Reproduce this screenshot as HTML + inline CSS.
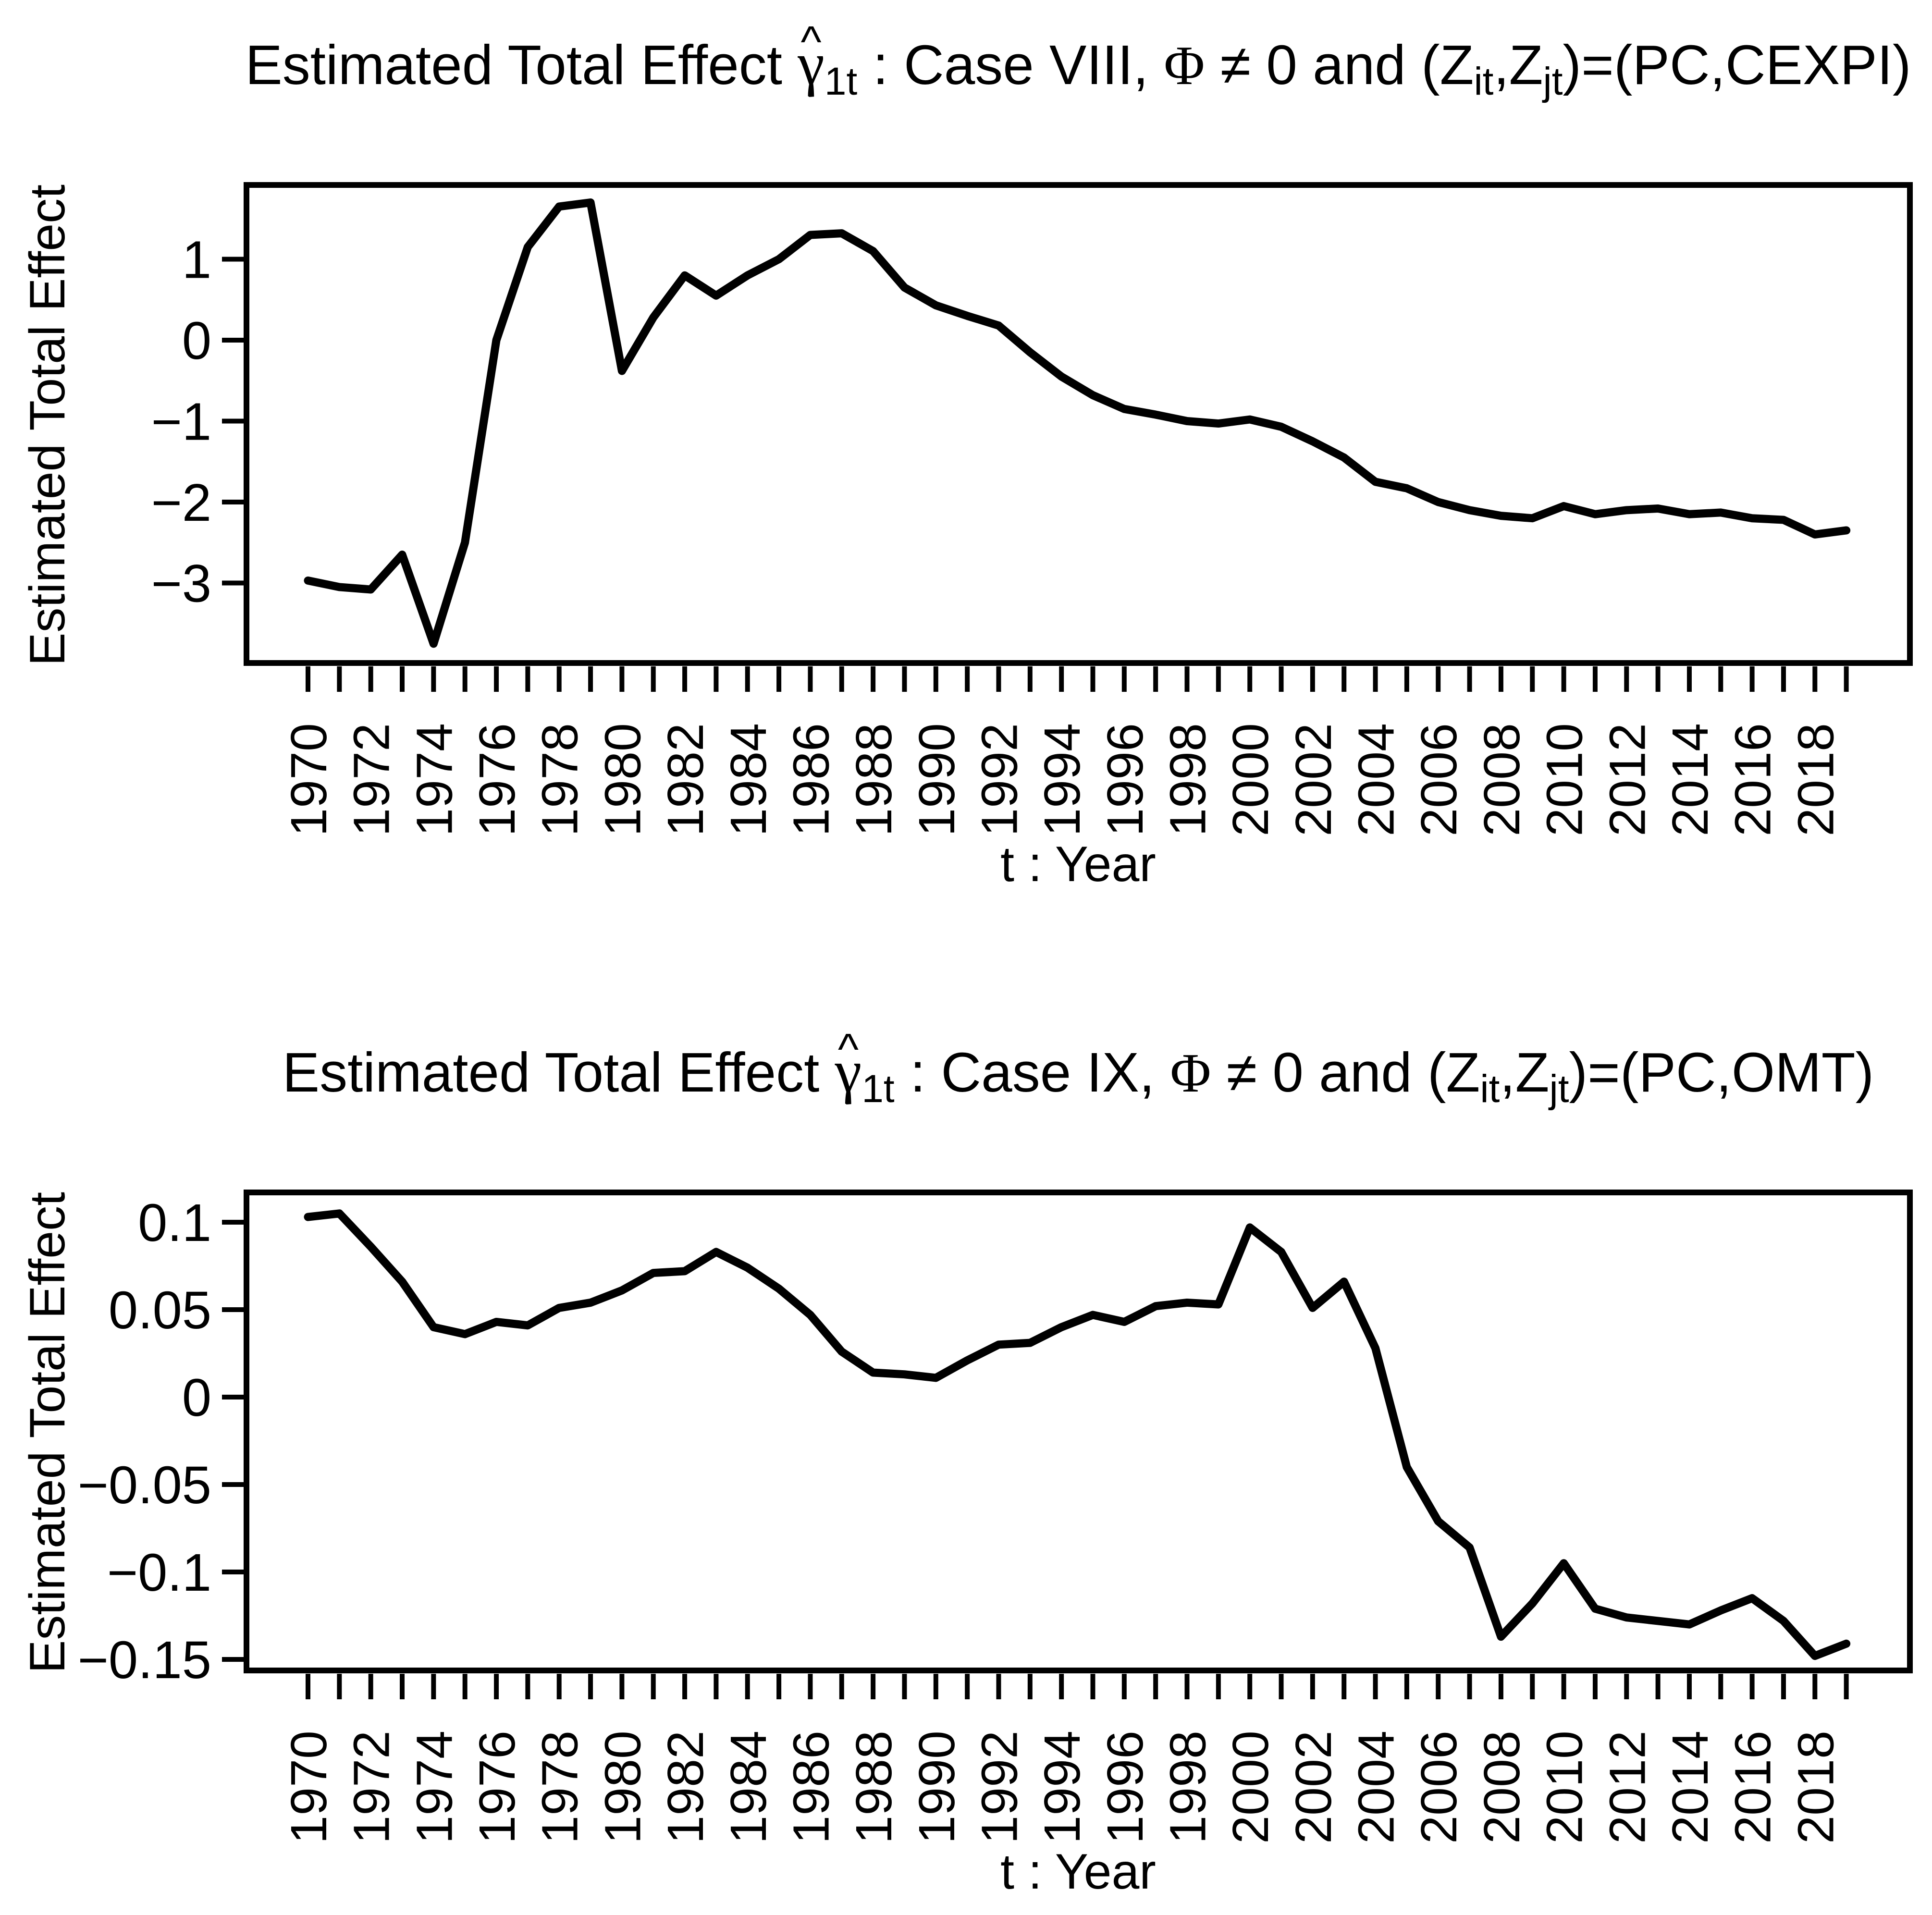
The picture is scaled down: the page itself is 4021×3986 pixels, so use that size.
<!DOCTYPE html>
<html><head><meta charset="utf-8"><style>html,body{margin:0;padding:0;background:#fff}svg{display:block}</style></head>
<body>
<svg id="chart" xmlns="http://www.w3.org/2000/svg" width="4021" height="3986" viewBox="0 0 4021 3986" font-family="'Liberation Sans', Arial, sans-serif">
<rect width="4021" height="3986" fill="#fff"/>
</svg>
<script>
const years = [];
for (let y = 1970; y <= 2019; y++) years.push(y);
const xTickLabels = ["1970","1972","1974","1976","1978","1980","1982","1984","1986","1988","1990","1992","1994","1996","1998","2000","2002","2004","2006","2008","2010","2012","2014","2016","2018"];
const seriesCaseVIII = [-2.97,-3.05,-3.08,-2.65,-3.75,-2.5,0.0,1.15,1.65,1.7,-0.38,0.28,0.8,0.55,0.8,1.0,1.3,1.32,1.1,0.65,0.43,0.3,0.18,-0.15,-0.45,-0.68,-0.85,-0.92,-1.0,-1.03,-0.98,-1.07,-1.25,-1.45,-1.75,-1.83,-2.0,-2.1,-2.17,-2.2,-2.05,-2.15,-2.1,-2.08,-2.15,-2.13,-2.2,-2.22,-2.4,-2.35];
const seriesCaseIX = [0.103,0.105,0.086,0.066,0.04,0.036,0.043,0.041,0.051,0.054,0.061,0.071,0.072,0.083,0.074,0.062,0.047,0.026,0.014,0.013,0.011,0.021,0.030,0.031,0.040,0.047,0.043,0.052,0.054,0.053,0.097,0.083,0.051,0.066,0.028,-0.04,-0.071,-0.086,-0.137,-0.118,-0.095,-0.121,-0.126,-0.128,-0.130,-0.122,-0.115,-0.128,-0.148,-0.141];
const yTicksTop = [1,0,-1,-2,-3];
const yTickLabelsTop = ["1","0","\u22121","\u22122","\u22123"];
const yTicksBottom = [0.1,0.05,0,-0.05,-0.1,-0.15];
const yTickLabelsBottom = ["0.1","0.05","0","\u22120.05","\u22120.1","\u22120.15"];

const NS = "http://www.w3.org/2000/svg";
const svg = document.getElementById('chart');
function mk(tag, attrs, parent){ const e=document.createElementNS(NS,tag); for(const k in attrs) e.setAttribute(k,attrs[k]); (parent||svg).appendChild(e); return e; }
const xScale = yr => 641 + (yr-1970)*65.34;

function panel(off, yScale, ticks, tickLabels, series, caseName, rest, name){
  const g = mk('g', {});
  
  
  const box = mk('rect',{x:513,y:385+off,width:3462,height:995,fill:'none',stroke:'#000','stroke-width':12},g);
  
  
  ticks.forEach((v,i)=>{
    const y = yScale(v);
    const t = mk('line',{x1:462,x2:513,y1:y,y2:y,stroke:'#000','stroke-width':10},g);
    
    
    const l = mk('text',{x:440,y:y+39,'text-anchor':'end','font-size':110},g);
    l.textContent = tickLabels[i];
    
    
  });
  years.forEach(yr=>{
    const x = xScale(yr);
    const t = mk('line',{x1:x,x2:x,y1:1387+off,y2:1440+off,stroke:'#000','stroke-width':10},g);
    
    
  });
  xTickLabels.forEach(lb=>{
    const x = xScale(+lb)+38;
    const l = mk('text',{x:x,y:1505+off,'text-anchor':'end','font-size':106,transform:`rotate(-90 ${x} ${1505+off})`},g);
    l.textContent = lb;
    
    
  });
  const pts = series.map((v,i)=>xScale(years[i])+','+yScale(v)).join(' ');
  const pl = mk('polyline',{points:pts,fill:'none',stroke:'#000','stroke-width':17,'stroke-linejoin':'round','stroke-linecap':'round'},g);
  
  
  const xt = mk('text',{x:2244,y:1834+off,'text-anchor':'middle','font-size':104},g);
  xt.textContent = 't : Year';
  
  
  const yc = 885+off;
  const yt = mk('text',{x:134,y:yc,'text-anchor':'middle','font-size':104,transform:`rotate(-90 134 ${yc})`},g);
  yt.textContent = 'Estimated Total Effect';
  
  
  const tt = mk('text',{x:2244,y:175+off,'text-anchor':'middle','font-size':116},g);
  
  
  tt.innerHTML = 'Estimated Total Effect <tspan font-family="Liberation Serif, serif" font-size="126">γ</tspan><tspan font-size="82" dy="22">1t</tspan><tspan dy="-22"> : '+caseName+', </tspan><tspan font-family="Liberation Serif, serif">Φ</tspan> ≠ 0 and (Z<tspan font-size="82" dy="22">it</tspan><tspan dy="-22">,Z</tspan><tspan font-size="82" dy="22">jt</tspan><tspan dy="-22">)='+rest+'</tspan>';
  let hx = 1680;
  try { const r = tt.getExtentOfChar(23); hx = r.x + r.width/2; } catch(e) {}
  const hat = mk('text',{x:hx,y:118+off,'text-anchor':'middle','font-size':92},g);
  hat.textContent = '^';
  
  
}
panel(0, v=>708-v*168.5, yTicksTop, yTickLabelsTop, seriesCaseVIII, 'Case VIII', '(PC,CEXPI)', 'panel-case-viii');
panel(2097, v=>2908-v*3640, yTicksBottom, yTickLabelsBottom, seriesCaseIX, 'Case IX', '(PC,OMT)', 'panel-case-ix');
</script>
</body></html>
